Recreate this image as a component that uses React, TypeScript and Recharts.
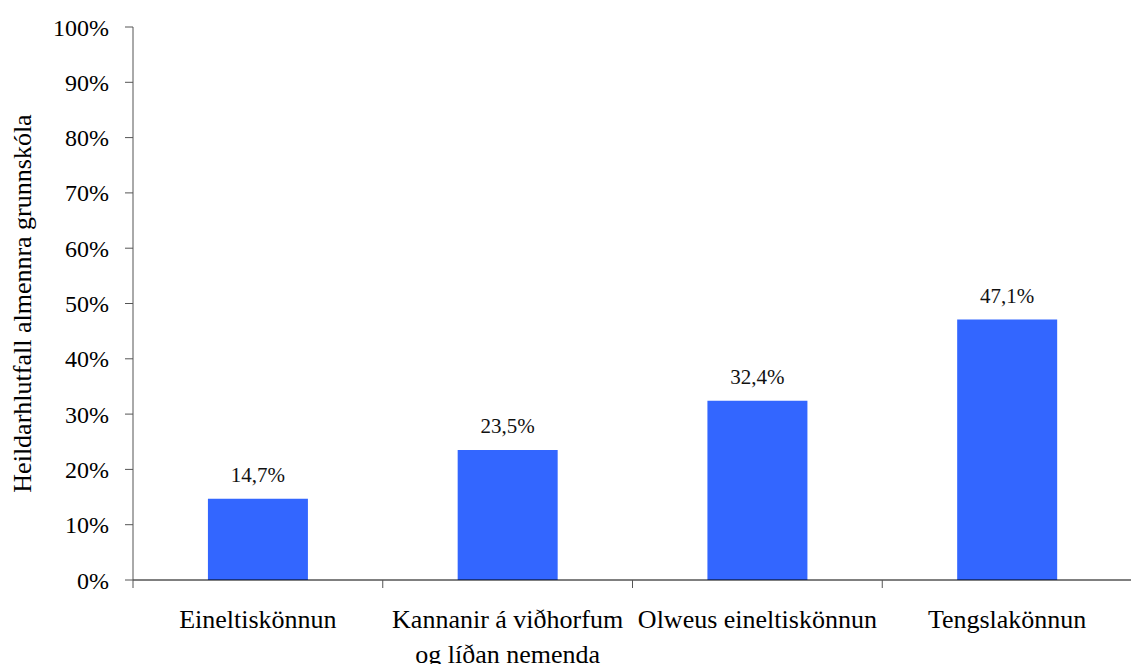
import React from 'react';
import { BarChart, Bar, XAxis, YAxis, LabelList } from 'recharts';

const CATEGORIES = [
  'Eineltiskönnun',
  'Kannanir á viðhorfum og líðan nemenda',
  'Olweus eineltiskönnun',
  'Tengslakönnun',
];
const VALUES = [14.7, 23.5, 32.4, 47.1];
const Y_TICKS = [0, 10, 20, 30, 40, 50, 60, 70, 80, 90, 100];
const Y_LABEL = 'Heildarhlutfall almennra grunnskóla';

const FONT = "'Liberation Serif', 'Times New Roman', serif";
const BAR_COLOR = '#3366FF';

const data = CATEGORIES.map((name, i) => ({ name, value: VALUES[i] }));

const fmtPct = (v: number) => `${v.toFixed(1).replace('.', ',')}%`;

// greedy word wrap measured with a canvas
let ctx: CanvasRenderingContext2D | null = null;
const wrapText = (text: string, maxWidth: number, font: string): string[] => {
  if (!ctx) ctx = document.createElement('canvas').getContext('2d');
  if (!ctx) return [text];
  ctx.font = font;
  const words = text.split(' ');
  const lines: string[] = [];
  let cur = '';
  words.forEach(w => {
    const next = cur ? `${cur} ${w}` : w;
    if (cur && ctx!.measureText(next).width > maxWidth) {
      lines.push(cur);
      cur = w;
    } else {
      cur = next;
    }
  });
  if (cur) lines.push(cur);
  return lines;
};

// category label centred in its band, with the tick mark on the band's left edge
const CategoryTick = (props: any) => {
  const { x, y, payload, width } = props;
  const band = width / CATEGORIES.length;
  const left = x - band / 2;
  const lines = wrapText(String(payload.value), band - 4, `26px ${FONT}`);
  return (
    <g>
      <line x1={left} y1={y} x2={left} y2={y + 8} stroke="#555" strokeWidth={1} />
      <text x={x} y={y + 48} textAnchor="middle" fill="#000" style={{ fontSize: 26, fontFamily: FONT }}>
        {lines.map((l, i) => (
          <tspan key={i} x={x} dy={i === 0 ? 0 : 35}>{l}</tspan>
        ))}
      </text>
    </g>
  );
};

const YLabel = (props: any) => {
  const { viewBox } = props;
  const cx = viewBox.x + 22;
  const cy = viewBox.y + viewBox.height / 2;
  return (
    <text
      x={cx}
      y={cy}
      transform={`rotate(-90, ${cx}, ${cy})`}
      textAnchor="middle"
      dominantBaseline="central"
      style={{ fontSize: 26, fontFamily: FONT }}
      fill="#000"
    >
      {Y_LABEL}
    </text>
  );
};

export default function App() {
  return (
    <div style={{ position: 'absolute', left: 0, top: 0, width: 1131, height: 664, overflow: 'hidden', background: '#fff' }}>
      <BarChart
        width={1132}
        height={664}
        data={data}
        margin={{ top: 27, right: 0, bottom: 0, left: 0 }}
        barCategoryGap="30%"
      >
        <XAxis
          dataKey="name"
          height={84}
          interval={0}
          tickLine={false}
          tickSize={0}
          tickMargin={0}
          axisLine={{ stroke: '#000' }}
          tick={<CategoryTick />}
        />
        <YAxis
          width={133}
          domain={[0, 100]}
          ticks={Y_TICKS}
          interval={0}
          tickFormatter={(v) => `${v}%`}
          tickSize={8}
          tickMargin={16}
          axisLine={{ stroke: '#555' }}
          tickLine={{ stroke: '#555' }}
          tick={{ fontSize: 24, fontFamily: FONT, fill: '#000' }}
          label={<YLabel />}
        />
        <Bar dataKey="value" fill={BAR_COLOR} isAnimationActive={false}>
          <LabelList
            dataKey="value"
            position="top"
            offset={17}
            formatter={(v: any) => fmtPct(Number(v))}
            style={{ fontSize: 21, fontFamily: FONT, fill: '#111' }}
          />
        </Bar>
      </BarChart>
    </div>
  );
}
